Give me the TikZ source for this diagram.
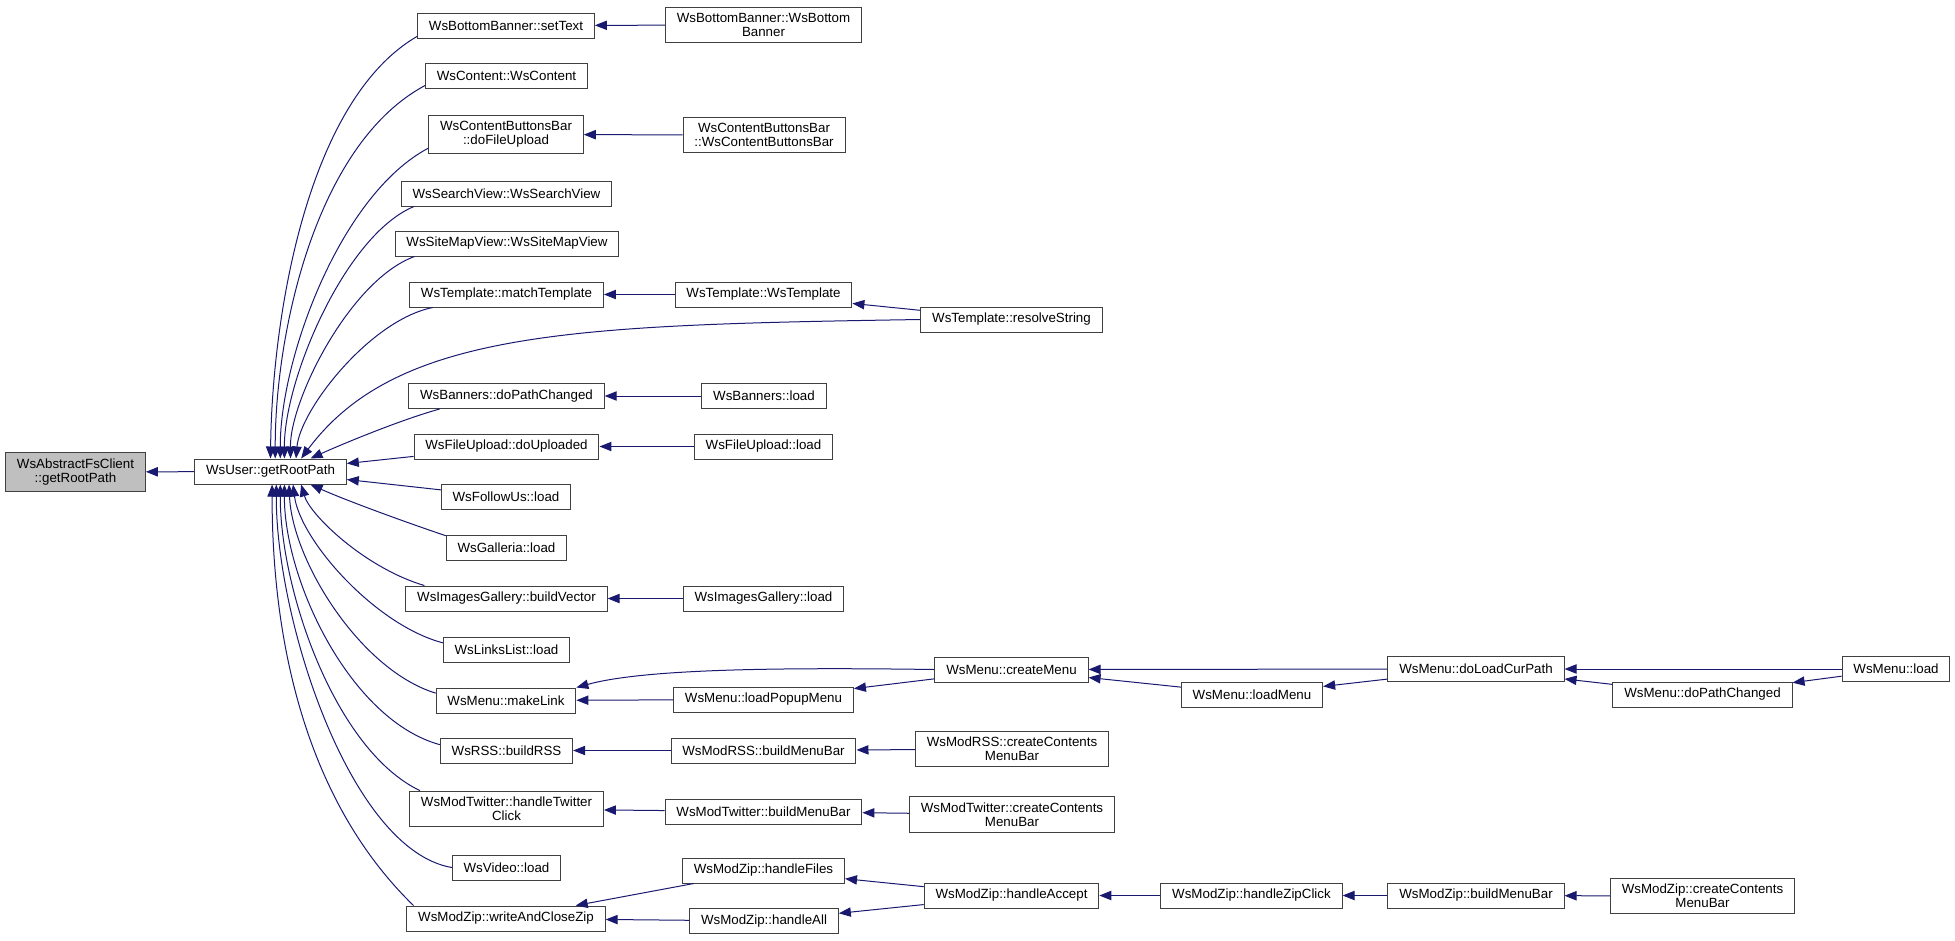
\documentclass[tikz,border=0pt]{standalone}
\usepackage{fontspec}
\setmainfont{Liberation Sans}
\usetikzlibrary{arrows.meta}
\definecolor{edgeblue}{HTML}{191970}
\definecolor{boxgray}{HTML}{404040}
\definecolor{rootfill}{HTML}{BFBFBF}
\begin{document}
\begin{tikzpicture}[x=0.75pt, y=-0.75pt,
	fn/.style={draw=boxgray, line width=0.75pt, fill=white, inner xsep=8.5pt, inner ysep=4.5pt, minimum height=18.75pt, align=center, font=\fontsize{10}{10.5}\selectfont},
	call/.style={draw=edgeblue, line width=0.75pt, -{Triangle[length=9pt,width=7pt]}}]
	\useasboundingbox (0,0) rectangle (1955,940);

	\node[fn, fill=rootfill] (root) at (75.5,472) {WsAbstractFsClient\\::getRootPath};
	\node[fn] (usr) at (270.5,471.5) {WsUser::getRootPath};

	\node[fn] (bbText) at (506,25.5) {WsBottomBanner::setText};
	\node[fn] (cont) at (506.5,75.5) {WsContent::WsContent};
	\node[fn] (cbUpload) at (506,134.5) {WsContentButtonsBar\\::doFileUpload};
	\node[fn] (search) at (506.5,193.5) {WsSearchView::WsSearchView};
	\node[fn] (sitemap) at (507,243.5) {WsSiteMapView::WsSiteMapView};
	\node[fn] (tmMatch) at (506.5,294.5) {WsTemplate::matchTemplate};
	\node[fn] (banPath) at (506.5,396) {WsBanners::doPathChanged};
	\node[fn] (fuDone) at (506.5,446.5) {WsFileUpload::doUploaded};
	\node[fn] (follow) at (506,497) {WsFollowUs::load};
	\node[fn] (galleria) at (506.5,547.5) {WsGalleria::load};
	\node[fn] (igVector) at (506.5,598.5) {WsImagesGallery::buildVector};
	\node[fn] (links) at (506.5,649.5) {WsLinksList::load};
	\node[fn] (mnLink) at (506,700.5) {WsMenu::makeLink};
	\node[fn] (rss) at (506.5,750.5) {WsRSS::buildRSS};
	\node[fn] (twClick) at (506.5,809) {WsModTwitter::handleTwitter\\Click};
	\node[fn] (video) at (506.5,867.5) {WsVideo::load};
	\node[fn] (zpWrite) at (506,918.5) {WsModZip::writeAndCloseZip};

	\node[fn] (bbCtor) at (763.5,25) {WsBottomBanner::WsBottom\\Banner};
	\node[fn] (cbCtor) at (764,135) {WsContentButtonsBar\\::WsContentButtonsBar};
	\node[fn] (tmCtor) at (763.5,294.5) {WsTemplate::WsTemplate};
	\node[fn] (tmResolve) at (1011.5,319.5) {WsTemplate::resolveString};
	\node[fn] (banLoad) at (764,396) {WsBanners::load};
	\node[fn] (fuLoad) at (763.5,446.5) {WsFileUpload::load};
	\node[fn] (igLoad) at (763.5,598.5) {WsImagesGallery::load};
	\node[fn] (mnPopup) at (763.5,699.5) {WsMenu::loadPopupMenu};
	\node[fn] (mnCreate) at (1011.5,669.5) {WsMenu::createMenu};
	\node[fn] (mnLoadMenu) at (1252,694.5) {WsMenu::loadMenu};
	\node[fn] (mnCurPath) at (1476,669) {WsMenu::doLoadCurPath};
	\node[fn] (mnPath) at (1702.5,694.5) {WsMenu::doPathChanged};
	\node[fn] (mnLoad) at (1896,669) {WsMenu::load};
	\node[fn] (mrBar) at (763.5,750.5) {WsModRSS::buildMenuBar};
	\node[fn] (mrCreate) at (1012,749) {WsModRSS::createContents\\MenuBar};
	\node[fn] (twBar) at (763.5,811.5) {WsModTwitter::buildMenuBar};
	\node[fn] (twCreate) at (1012,814.5) {WsModTwitter::createContents\\MenuBar};
	\node[fn] (zpFiles) at (763.5,870.5) {WsModZip::handleFiles};
	\node[fn] (zpAll) at (764,921) {WsModZip::handleAll};
	\node[fn] (zpAccept) at (1011.5,895.5) {WsModZip::handleAccept};
	\node[fn] (zpClick) at (1251.5,895.5) {WsModZip::handleZipClick};
	\node[fn] (zpBar) at (1476,895.5) {WsModZip::buildMenuBar};
	\node[fn] (zpCreate) at (1702.5,896) {WsModZip::createContents\\MenuBar};

	\draw[call] (usr) -- (root);

	\draw[call] (bbText.187) .. controls (306,101) and (272,320) .. (usr.north);
	\draw[call] (cont.187) .. controls (314,145) and (275,337) .. (usr.70);
	\draw[call] (cbUpload.190) .. controls (340,195) and (280,359) .. (usr.53);
	\draw[call] (search.188) .. controls (345,235) and (284,380) .. (usr.43);
	\draw[call] (sitemap.188) .. controls (350,280) and (290,400) .. (usr.33);
	\draw[call] (tmMatch.190) .. controls (370,320) and (300,410) .. (usr.27);
	\draw[call] (tmResolve.west) .. controls (575,325) and (397,330) .. (usr.23);
	\draw[call] (banPath.191) .. controls (400,420) and (340,445) .. (usr.18);
	\draw[call] (fuDone) -- (usr.6);
	\draw[call] (follow) -- (usr.-6);
	\draw[call] (galleria.169) .. controls (405,522) and (345,500) .. (usr.-18);
	\draw[call] (igVector.171) .. controls (365,568) and (310,515) .. (usr.-23);
	\draw[call] (links.174) .. controls (375,625) and (300,540) .. (usr.-30);
	\draw[call] (mnLink.174) .. controls (360,670) and (292,560) .. (usr.-35);
	\draw[call] (rss.175) .. controls (350,720) and (284,580) .. (usr.-43);
	\draw[call] (twClick.168) .. controls (335,750) and (280,590) .. (usr.-53);
	\draw[call] (video.180) .. controls (350,850) and (276,620) .. (usr.-66);
	\draw[call] (zpWrite.172) .. controls (305,800) and (272,640) .. (usr.-83);

	\draw[call] (bbCtor) -- (bbText);
	\draw[call] (cbCtor) -- (cbUpload);
	\draw[call] (tmCtor) -- (tmMatch);
	\draw[call] (tmResolve) -- (tmCtor);
	\draw[call] (banLoad) -- (banPath);
	\draw[call] (fuLoad) -- (fuDone);
	\draw[call] (igLoad) -- (igVector);

	\draw[call] (mnCreate.west) .. controls (760,667) and (640,670) .. (mnLink.north east);
	\draw[call] (mnPopup) -- (mnLink);
	\draw[call] (mnCreate) -- (mnPopup);
	\draw[call] (mnCurPath) -- (mnCreate);
	\draw[call] (mnLoadMenu) -- (mnCreate);
	\draw[call] (mnCurPath) -- (mnLoadMenu);
	\draw[call] (mnLoad) -- (mnCurPath);
	\draw[call] (mnPath) -- (mnCurPath);
	\draw[call] (mnLoad) -- (mnPath);

	\draw[call] (mrBar) -- (rss);
	\draw[call] (mrCreate) -- (mrBar);
	\draw[call] (twBar) -- (twClick);
	\draw[call] (twCreate) -- (twBar);

	\draw[call] (zpFiles) -- (zpWrite);
	\draw[call] (zpAll) -- (zpWrite);
	\draw[call] (zpAccept) -- (zpFiles);
	\draw[call] (zpAccept) -- (zpAll);
	\draw[call] (zpClick) -- (zpAccept);
	\draw[call] (zpBar) -- (zpClick);
	\draw[call] (zpCreate) -- (zpBar);
\end{tikzpicture}
\end{document}
